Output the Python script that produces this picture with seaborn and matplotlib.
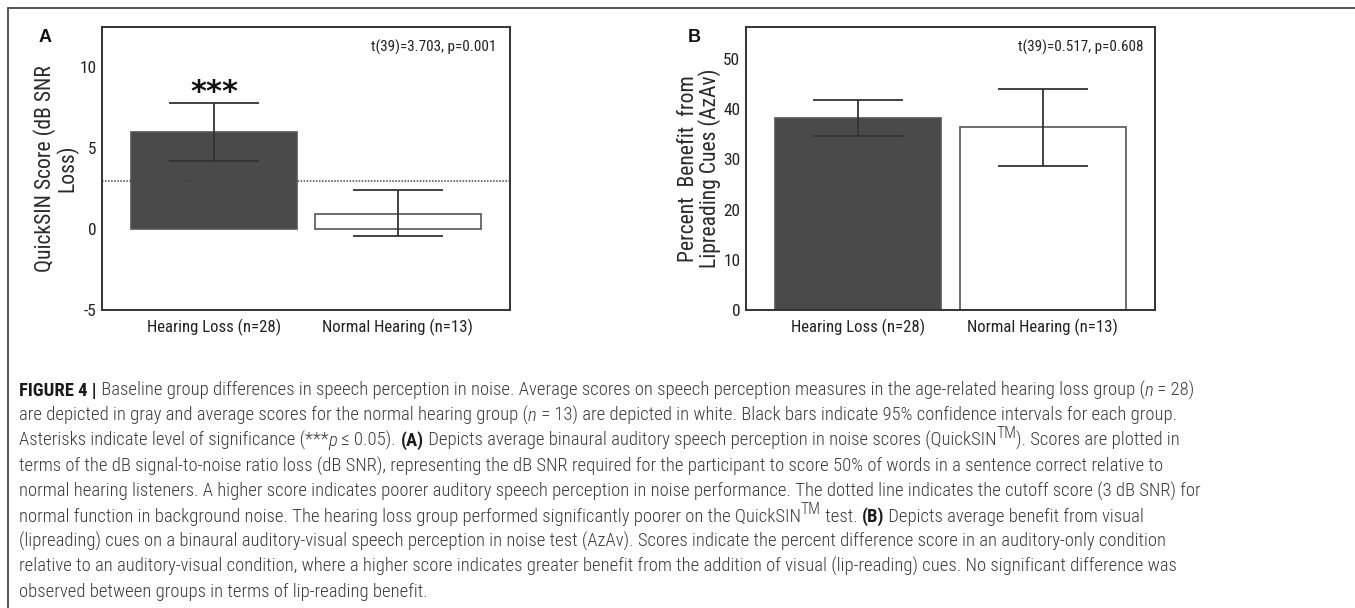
import matplotlib
matplotlib.use("Agg")
import matplotlib.pyplot as plt
import seaborn as sns
import pandas as pd
from matplotlib import font_manager
from matplotlib.lines import Line2D

# ---------------- data ----------------
groups = ["Hearing Loss (n=28)", "Normal Hearing (n=13)"]
quicksin_mean = [6.0, 0.95]
quicksin_lo = [4.2, -0.45]
quicksin_hi = [7.8, 2.4]
quicksin_cutoff = 3.0
quicksin_ticks = [-5, 0, 5, 10]
quicksin_stat = "t(39)=3.703, p=0.001"
quicksin_ylabel = "QuickSIN Score (dB SNR\nLoss)"

azav_mean = [38.2, 36.4]
azav_lo = [34.6, 28.6]
azav_hi = [41.8, 44.0]
azav_ticks = [0, 10, 20, 30, 40, 50]
azav_stat = "t(39)=0.517, p=0.608"
azav_ylabel = "Percent  Benefit  from\nLipreading Cues (AzAv)"

bar_colors = ["#4a4a4a", "#ffffff"]

# ---------------- fonts ----------------
names = {f.name for f in font_manager.fontManager.ttflist}
FAM = "Roboto Condensed" if "Roboto Condensed" in names else "Liberation Sans"

sns.set_theme(style="white")
plt.rcParams["font.family"] = [FAM, "DejaVu Sans"]

W, H = 1355, 608
fig = plt.figure(figsize=(W / 100, H / 100), dpi=100)
fig.patch.set_facecolor("white")
renderer = fig.canvas.get_renderer()


def fprops(size, weight="normal", style="normal"):
    return font_manager.FontProperties(family=[FAM, "DejaVu Sans"], size=size,
                                       weight=weight, style=style)


def measure(s, fp):
    w1 = renderer.get_text_width_height_descent("|" + s + "|", fp, ismath=False)[0]
    w0 = renderer.get_text_width_height_descent("||", fp, ismath=False)[0]
    return w1 - w0


def fit_size(s, target_px, weight="normal"):
    base = 10.0
    return base * target_px / measure(s, fprops(base, weight))


XT_SIZE = fit_size(groups[0], 133)
YT_SIZE = XT_SIZE * 1.03
STAT_SIZE = fit_size(quicksin_stat, 124)
YL_SIZE = fit_size("QuickSIN Score (dB SNR", 220) * 0.94


def px_axes(left, top, right, bottom):
    return fig.add_axes([left / W, 1 - bottom / H, (right - left) / W, (bottom - top) / H])


def draw_panel(ax, means, lo, hi, ylim, ticks, ylabel, stat, stat_x, label_x):
    df = pd.DataFrame({"group": groups, "mean": means})
    sns.barplot(data=df, x="group", y="mean", hue="group", palette=bar_colors,
                width=0.9, saturation=1, edgecolor="#555555", linewidth=1.2,
                legend=False, ax=ax, zorder=2)
    yerr = [[m - l for m, l in zip(means, lo)], [h - m for m, h in zip(means, hi)]]
    ax.errorbar(x=[0, 1], y=means, yerr=yerr, fmt="none", ecolor="#333333",
                elinewidth=1.3, capsize=32.4, capthick=1.3, zorder=4)
    ax.set_xlim(-0.61, 1.61)
    ax.set_ylim(*ylim)
    ax.set_yticks(ticks)
    ax.set_yticklabels([str(t) for t in ticks])
    ax.tick_params(axis="both", length=0, colors="#222222")
    ax.tick_params(axis="y", pad=4, labelsize=YT_SIZE)
    ax.tick_params(axis="x", pad=6, labelsize=XT_SIZE)
    ax.set_xlabel("")
    ax.set_ylabel(ylabel, fontsize=YL_SIZE, color="#2a2a2a", linespacing=0.95,
                  ha="center", va="center")
    ax.yaxis.set_label_coords(label_x, 0.5)
    for s in ax.spines.values():
        s.set_visible(True)
        s.set_color("#333333")
        s.set_linewidth(1.4)
    ax.text(stat_x, 0.929, stat, transform=ax.transAxes, ha="right", va="center",
            fontsize=STAT_SIZE, color="#222222")
    ax.set_facecolor("white")


axA = px_axes(102, 27, 510, 310)
draw_panel(axA, quicksin_mean, quicksin_lo, quicksin_hi, (-5, 12.5), quicksin_ticks,
           quicksin_ylabel, quicksin_stat, 0.966, -0.114)
axA.axhline(quicksin_cutoff, color="#444444", linestyle=(0, (1, 1)), linewidth=1.1, zorder=3)
axA.text(0, 7.95, "***", ha="center", va="baseline", fontsize=22, fontweight="bold",
         family="DejaVu Sans", color="#111111", zorder=5)

axB = px_axes(746, 27, 1155, 310)
draw_panel(axB, azav_mean, azav_lo, azav_hi, (0, 56.4), azav_ticks,
           azav_ylabel, azav_stat, 0.971, -0.113)

# panel letters
for lx, letter in [(45, "A"), (694, "B")]:
    fig.text(lx / W, 1 - 37 / H, letter, ha="center", va="center", fontsize=13,
             fontweight="bold", color="#111111", family=["Liberation Sans", "DejaVu Sans"])

# frame lines (top and left)
fig.add_artist(Line2D([8 / W, 1.0], [1 - 8 / H, 1 - 8 / H], transform=fig.transFigure,
                      color="#555555", linewidth=1.4))
fig.add_artist(Line2D([8 / W, 8 / W], [1 - 8 / H, 0.0], transform=fig.transFigure,
                      color="#555555", linewidth=1.4))

# ---------------- caption ----------------
caption = [
    [("FIGURE 4 |", "b"), (" Baseline group differences in speech perception in noise. Average scores on speech perception measures in the age-related hearing loss group (", ""), ("n", "i"), (" = 28)", "")],
    [("are depicted in gray and average scores for the normal hearing group (", ""), ("n", "i"), (" = 13) are depicted in white. Black bars indicate 95% confidence intervals for each group.", "")],
    [("Asterisks indicate level of significance (***", ""), ("p", "i"), (" \u2264 0.05). ", ""), ("(A)", "b"), (" Depicts average binaural auditory speech perception in noise scores (QuickSIN", ""), ("TM", "s"), ("). Scores are plotted in", "")],
    [("terms of the dB signal-to-noise ratio loss (dB SNR), representing the dB SNR required for the participant to score 50% of words in a sentence correct relative to", "")],
    [("normal hearing listeners. A higher score indicates poorer auditory speech perception in noise performance. The dotted line indicates the cutoff score (3 dB SNR) for", "")],
    [("normal function in background noise. The hearing loss group performed significantly poorer on the QuickSIN", ""), ("TM", "s"), (" test. ", ""), ("(B)", "b"), (" Depicts average benefit from visual", "")],
    [("(lipreading) cues on a binaural auditory-visual speech perception in noise test (AzAv). Scores indicate the percent difference score in an auditory-only condition", "")],
    [("relative to an auditory-visual condition, where a higher score indicates greater benefit from the addition of visual (lip-reading) cues. No significant difference was", "")],
    [("observed between groups in terms of lip-reading benefit.", "")],
]
CAP_W = "light"
CAP_COLOR = "#3a3a3a"


def seg_props(style, size):
    if "b" in style:
        return fprops(size, "bold")
    if "i" in style:
        return fprops(size, CAP_W, "italic")
    if "s" in style:
        return fprops(size * 0.85, CAP_W)
    return fprops(size, CAP_W)


def line_width(segs, size):
    return sum(measure(t, seg_props(st, size)) for t, st in segs)


CAP_SIZE = 10.0 * 1166 / line_width(caption[0], 10.0)


def rich_line(y, segments, x=19):
    for text, style in segments:
        fp = seg_props(style, CAP_SIZE)
        dy = 8 if "s" in style else 0
        col = "#1a1a1a" if "b" in style else CAP_COLOR
        fig.text(x / W, 1 - (y - dy) / H, text, fontproperties=fp, color=col,
                 ha="left", va="baseline")
        x += measure(text, fp)


for i, segs in enumerate(caption):
    rich_line(396 + 25.1 * i, segs)

fig.savefig("out.png", dpi=100, facecolor="white")
